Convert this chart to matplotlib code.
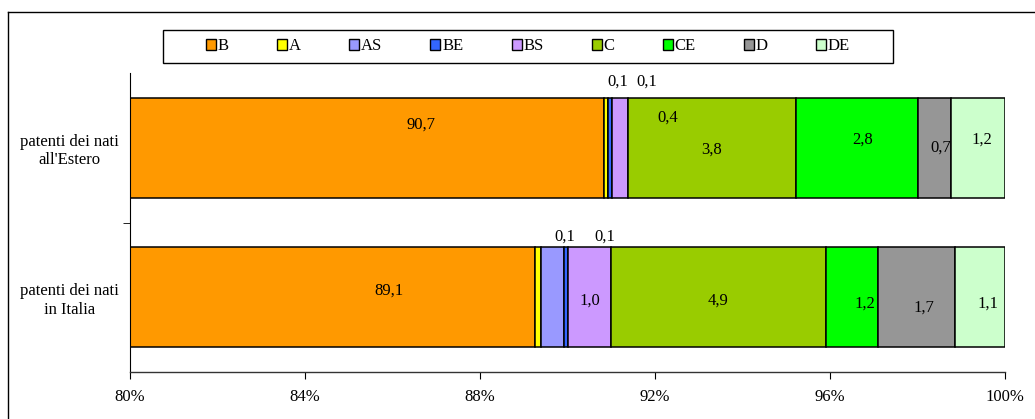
import numpy as np
import matplotlib.pyplot as plt
from matplotlib.patches import Patch, Rectangle
from matplotlib.lines import Line2D

plt.rcParams['font.family'] = ['Liberation Serif', 'DejaVu Serif']
plt.rcParams['font.size'] = 12

categories = ['B', 'A', 'AS', 'BE', 'BS', 'C', 'CE', 'D', 'DE']
colors = ['#FF9900', '#FFFF00', '#9999FF', '#3366FF', '#CC99FF',
          '#99CC00', '#00FF00', '#969696', '#CCFFCC']
groups = ['patenti dei nati\nin Italia', "patenti dei nati\nall'Estero"]

# quote %
italia = [89.21, 0.12, 0.53, 0.10, 0.98, 4.91, 1.19, 1.76, 1.14]
estero = [90.76, 0.08, 0.00, 0.09, 0.37, 3.84, 2.79, 0.75, 1.23]

# etichette mostrate sulle barre
italia_lab = ['89,1', '0,1', '', '0,1', '1,0', '4,9', '1,2', '1,7', '1,1']
estero_lab = ['90,7', '0,1', '', '0,1', '0,4', '3,8', '2,8', '0,7', '1,2']

# spostamento etichette (pixel)
italia_off = [(56, 7), (27, 61), (0, 0), (39, 61), (0, -3), (0, -3), (13, -6), (7, -10), (8, -6)]
estero_off = [(54, 23), (12, 66), (0, 0), (37, 66), (48, 30), (0, -2), (5, 8), (6, 0), (4, 8)]

rows = [italia, estero]
labs = [italia_lab, estero_lab]
offs = [italia_off, estero_off]

W, H = 1035, 419
fig = plt.figure(figsize=(W / 100, H / 100), dpi=100)
ax = fig.add_axes([130 / W, 1 - 372 / H, 875 / W, 299 / H])

for i, vals in enumerate(rows):
    v = np.array(vals, dtype=float)
    v = v / v.sum() * 100
    left = 0.0
    for j, w in enumerate(v):
        ax.barh(i, w, left=left, height=0.67, color=colors[j],
                edgecolor='black', linewidth=1.1, zorder=2)
        txt = labs[i][j]
        if txt:
            x0 = max(left, 80)
            xc = (x0 + left + w) / 2
            dx, dy = offs[i][j]
            ax.annotate(txt, (xc, i), xytext=(dx, dy), textcoords='offset pixels',
                        ha='center', va='center', fontsize=12, zorder=3)
        left += w

ax.set_xlim(80, 100)
ax.set_ylim(-0.5, 1.5)
ax.set_xticks(np.arange(80, 101, 4))
ax.set_xticklabels([f'{t}%' for t in range(80, 101, 4)])
ax.set_yticks([0, 1])
ax.set_yticklabels(groups, multialignment='center')
ax.set_yticks([0.5], minor=True)
ax.tick_params(axis='y', which='major', length=0, pad=8)
ax.tick_params(axis='y', which='minor', length=5, direction='out')
ax.tick_params(axis='x', length=5, direction='out', pad=7)
for s in ['top', 'right']:
    ax.spines[s].set_visible(False)
ax.spines['left'].set_linewidth(0.8)
ax.spines['bottom'].set_linewidth(1.0)
ax.spines['bottom'].set_color('#333333')

# legenda
handles = [Patch(facecolor=c, edgecolor='black', linewidth=1.0) for c in colors]
fig.legend(handles, categories, loc='center', bbox_to_anchor=(528 / W, 1 - 46.5 / H),
           ncol=9, frameon=False, handlelength=0.6, handleheight=0.6,
           handletextpad=0.1, columnspacing=2.9, fontsize=12)
fig.patches.append(Rectangle((163 / W, 1 - 63 / H), 730 / W, 33 / H,
                             transform=fig.transFigure, fill=False,
                             edgecolor='black', linewidth=1.0))

# bordo area grafico
fig.lines.append(Line2D([8 / W, 8 / W], [1 - 12 / H, 0], transform=fig.transFigure,
                        color='black', linewidth=1.0))
fig.lines.append(Line2D([8 / W, 1], [1 - 12 / H, 1 - 12 / H], transform=fig.transFigure,
                        color='black', linewidth=1.0))

fig.savefig('out.png', dpi=100)
